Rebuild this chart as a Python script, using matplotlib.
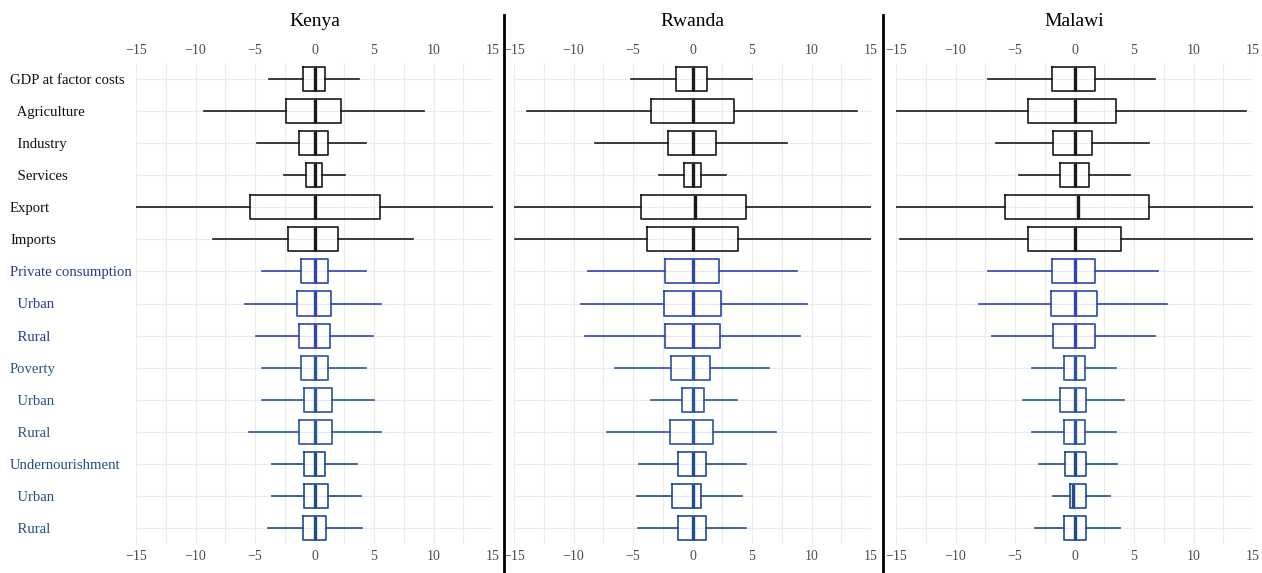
import matplotlib
matplotlib.use("Agg")
import matplotlib.pyplot as plt
from matplotlib.lines import Line2D

plt.rcParams["font.family"] = ["Liberation Serif", "DejaVu Serif"]

labels = ["GDP at factor costs", "  Agriculture", "  Industry", "  Services",
          "Export", "Imports", "Private consumption", "  Urban", "  Rural",
          "Poverty", "  Urban", "  Rural", "Undernourishment", "  Urban", "  Rural"]

black, blue, steel, navy = "#1a1a1a", "#2e45ad", "#28579a", "#1d4d8c"
row_colors = [black] * 6 + [blue] * 3 + [steel] * 3 + [navy] * 3
label_colors = ["#111111"] * 6 + ["#2a3a9a"] * 3 + ["#2a5584"] * 3 + ["#23508a"] * 3

countries = ["Kenya", "Rwanda", "Malawi"]

# whisker low, Q1, median, Q3, whisker high (percent change), rows top to bottom
kenya_lo = [-3.8, -9.3, -4.8, -2.6, -15.0, -8.5, -4.4, -5.8, -4.9, -4.4, -4.4, -5.5, -3.6, -3.6, -3.9]
kenya_q1 = [-1.0, -2.4, -1.3, -0.7, -5.4, -2.2, -1.1, -1.5, -1.3, -1.1, -0.9, -1.3, -0.9, -0.9, -1.0]
kenya_md = [0.0, 0.0, 0.0, 0.0, 0.0, 0.0, 0.0, 0.0, 0.0, 0.0, 0.0, 0.05, 0.0, 0.0, 0.0]
kenya_q3 = [0.9, 2.2, 1.1, 0.6, 5.5, 2.0, 1.1, 1.4, 1.3, 1.1, 1.5, 1.5, 0.9, 1.1, 1.0]
kenya_hi = [3.7, 9.2, 4.3, 2.6, 15.0, 8.3, 4.3, 5.6, 4.9, 4.3, 5.0, 5.6, 3.6, 3.9, 4.0]

rwanda_lo = [-5.2, -13.9, -8.2, -2.8, -15.0, -14.9, -8.8, -9.4, -9.0, -6.5, -3.5, -7.2, -4.5, -4.7, -4.6]
rwanda_q1 = [-1.4, -3.5, -2.1, -0.7, -4.3, -3.8, -2.3, -2.4, -2.3, -1.8, -0.9, -1.9, -1.2, -1.7, -1.2]
rwanda_md = [0.0, 0.0, 0.0, 0.0, 0.2, 0.0, 0.0, 0.0, 0.0, 0.0, 0.0, 0.0, 0.0, 0.0, 0.0]
rwanda_q3 = [1.2, 3.5, 2.0, 0.7, 4.5, 3.8, 2.2, 2.4, 2.3, 1.5, 1.0, 1.7, 1.1, 0.7, 1.1]
rwanda_hi = [5.0, 13.8, 7.9, 2.8, 15.0, 15.0, 8.8, 9.6, 9.0, 6.4, 3.7, 7.0, 4.5, 4.2, 4.5]

malawi_lo = [-7.3, -15.0, -6.6, -4.7, -15.0, -14.7, -7.3, -8.0, -6.9, -3.6, -4.3, -3.6, -3.0, -1.8, -3.3]
malawi_q1 = [-1.9, -3.9, -1.8, -1.2, -5.8, -3.9, -1.9, -2.0, -1.8, -0.9, -1.2, -0.9, -0.8, -0.4, -0.9]
malawi_md = [0.0, 0.0, 0.0, 0.0, 0.3, 0.0, 0.0, 0.0, 0.0, 0.0, 0.0, 0.0, 0.0, -0.1, 0.0]
malawi_q3 = [1.7, 3.5, 1.5, 1.2, 6.3, 3.9, 1.7, 1.9, 1.7, 0.9, 1.0, 0.9, 1.0, 1.0, 1.0]
malawi_hi = [6.8, 14.4, 6.3, 4.7, 15.0, 15.0, 7.0, 7.8, 6.8, 3.5, 4.2, 3.5, 3.6, 3.0, 3.8]

data = {
    "Kenya": (kenya_lo, kenya_q1, kenya_md, kenya_q3, kenya_hi),
    "Rwanda": (rwanda_lo, rwanda_q1, rwanda_md, rwanda_q3, rwanda_hi),
    "Malawi": (malawi_lo, malawi_q1, malawi_md, malawi_q3, malawi_hi),
}

W, H = 1262, 573
fig = plt.figure(figsize=(W / 100, H / 100), dpi=100)

lefts = [136, 514, 896]
ax_w = 357
ax_bottom, ax_top = 544, 63
n = len(labels)
positions = list(range(n))

for k, country in enumerate(countries):
    ax = fig.add_axes([lefts[k] / W, (H - ax_bottom) / H, ax_w / W, (ax_bottom - ax_top) / H])
    lo, q1, md, q3, hi = data[country]
    stats = [{"whislo": lo[i], "q1": q1[i], "med": md[i], "q3": q3[i], "whishi": hi[i], "fliers": []}
             for i in range(n)]
    art = ax.bxp(stats, positions=positions, orientation="horizontal", widths=0.75,
                 showcaps=False, showfliers=False, patch_artist=False)
    for i in range(n):
        c = row_colors[i]
        art["boxes"][i].set_color(c)
        art["boxes"][i].set_linewidth(1.2)
        art["medians"][i].set_color(c)
        art["medians"][i].set_linewidth(2.4)
        for wk in art["whiskers"][2 * i:2 * i + 2]:
            wk.set_color(c)
            wk.set_linewidth(1.2)

    ax.set_xlim(-15, 15)
    ax.set_ylim(n - 0.5, -0.5)
    ax.set_xticks([-15, -10, -5, 0, 5, 10, 15])
    ax.set_xticks([-12.5, -7.5, -2.5, 2.5, 7.5, 12.5], minor=True)
    ax.set_yticks(positions)
    ax.grid(True, which="both", color="#ebebeb", linewidth=0.8)
    ax.set_axisbelow(True)
    for s in ax.spines.values():
        s.set_visible(False)
    ax.tick_params(axis="x", which="both", length=0, labeltop=True, labelbottom=True,
                   labelsize=10, labelcolor="#4d4d4d", pad=4)
    ax.tick_params(axis="y", length=0)
    if k == 0:
        ax.set_yticklabels(labels, fontsize=10.6, ha="left")
        ax.tick_params(axis="y", pad=(lefts[0] - 10) * 0.72)
        for t, c in zip(ax.get_yticklabels(), label_colors):
            t.set_color(c)
    else:
        ax.set_yticklabels([])
    ax.set_title(country, fontsize=14, pad=27)

# panel separators
for xs in [504, 883]:
    fig.add_artist(Line2D([xs / W, xs / W], [0, 1 - 15 / H], color="black", linewidth=2))

fig.savefig("out.png", dpi=100)
